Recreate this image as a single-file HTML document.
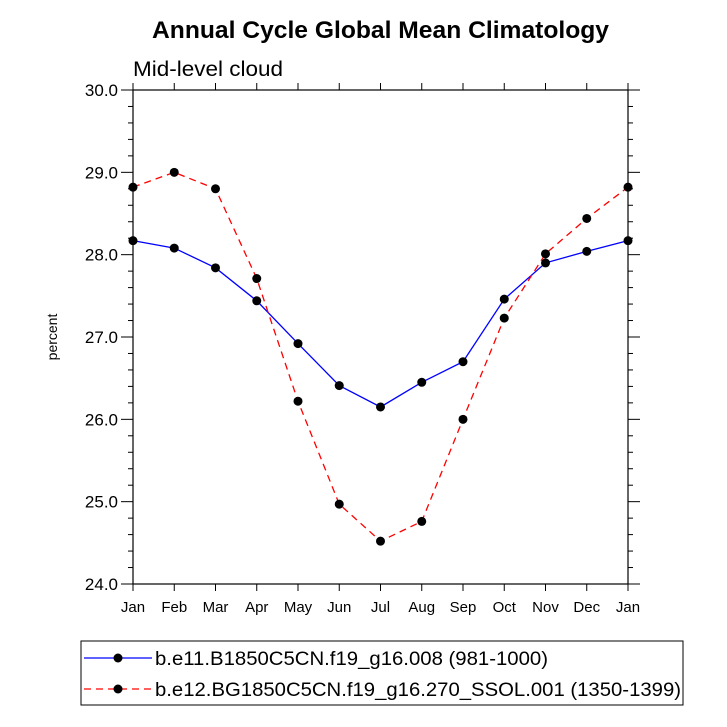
<!DOCTYPE html>
<html><head><meta charset="utf-8"><style>body{margin:0;background:#fff}svg{display:block;font-family:"Liberation Sans",Arial,sans-serif}</style></head>
<body>
<svg id="c" width="727" height="727">
<text x="152" y="38" font-size="24" font-weight="bold" textLength="457" lengthAdjust="spacingAndGlyphs">Annual Cycle Global Mean Climatology</text>
<text x="133" y="76" font-size="21" textLength="150" lengthAdjust="spacingAndGlyphs">Mid-level cloud</text>
<text transform="translate(57,337) rotate(-90)" text-anchor="middle" font-size="14">percent</text>
<g id="ax"></g><g id="marks"></g>
<g>
<rect x="81" y="641" width="602" height="64" fill="none" stroke="#000" stroke-width="1"/>
<g><line x1="84" y1="658" x2="152" y2="658" stroke="blue" stroke-width="1.3"/><circle cx="118" cy="658" r="4.5"/><text x="155" y="665" font-size="19" textLength="393" lengthAdjust="spacingAndGlyphs">b.e11.B1850C5CN.f19_g16.008 (981-1000)</text></g>
<g><line x1="84" y1="689" x2="152" y2="689" stroke="red" stroke-width="1.3" stroke-dasharray="7,5"/><circle cx="118" cy="689" r="4.5"/><text x="155" y="696" font-size="19" textLength="526" lengthAdjust="spacingAndGlyphs">b.e12.BG1850C5CN.f19_g16.270_SSOL.001 (1350-1399)</text></g>
</g>
</svg>
<script>
const months=["Jan","Feb","Mar","Apr","May","Jun","Jul","Aug","Sep","Oct","Nov","Dec","Jan"];
const blueVals=[28.17,28.08,27.84,27.44,26.92,26.41,26.15,26.45,26.70,27.46,27.90,28.04,28.17];
const redVals=[28.82,29.00,28.80,27.71,26.22,24.97,24.52,24.76,26.00,27.23,28.01,28.44,28.82];
const yTicks=[24,25,26,27,28,29,30];
const L=133,R=628,T=90,B=584,ymin=24,ymax=30;
const xs=i=>L+(R-L)*i/12, ys=v=>B-(v-ymin)/(ymax-ymin)*(B-T);
const NS="http://www.w3.org/2000/svg";
function mk(p,t,a){const e=document.createElementNS(NS,t);for(const k in a)e.setAttribute(k,a[k]);p.appendChild(e);return e;}
const ax=document.getElementById('ax'),mg=document.getElementById('marks');
const fr=mk(ax,'rect',{x:L,y:T,width:R-L,height:B-T,fill:'none',stroke:'#000','stroke-width':1.2});


for(let v=ymin;v<=ymax+1e-9;v+=0.2){const maj=Math.abs(v-Math.round(v))<1e-6,y=ys(v),len=maj?12:5;
mk(ax,'line',{x1:L-len,y1:y,x2:L,y2:y,stroke:'#000'});mk(ax,'line',{x1:R,y1:y,x2:R+len,y2:y,stroke:'#000'});}
yTicks.forEach(v=>{const t=mk(ax,'text',{x:L-15,y:ys(v)+6,'text-anchor':'end','font-size':17});t.textContent=v.toFixed(1);

});
months.forEach((m,i)=>{const x=xs(i);mk(ax,'line',{x1:x,y1:B,x2:x,y2:B+7,stroke:'#000'});mk(ax,'line',{x1:x,y1:T-7,x2:x,y2:T,stroke:'#000'});
const t=mk(ax,'text',{x:x,y:B+28,'text-anchor':'middle','font-size':15});t.textContent=m;

});
function series(vals,col,dash,name){const g=mk(mg,'g',{});


mk(g,'polyline',{points:vals.map((v,i)=>xs(i)+','+ys(v)).join(' '),fill:'none',stroke:col,'stroke-width':1.3,'stroke-dasharray':dash});
vals.forEach((v,i)=>{const c=mk(g,'circle',{cx:xs(i),cy:ys(v),r:4.5});

});}
series(blueVals,'blue','none','series-blue');
series(redVals,'red','7,5','series-red');
</script>
</body></html>
